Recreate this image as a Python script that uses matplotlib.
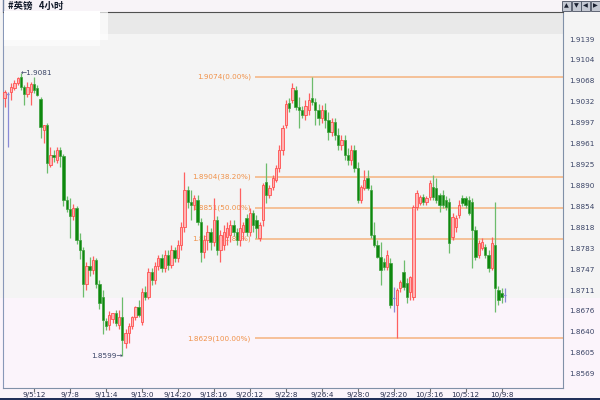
import numpy as np
import matplotlib
matplotlib.use('Agg')
import matplotlib.pyplot as plt
from matplotlib.patches import Rectangle

# Dados: GBPUSD 4 horas (abertura, maxima, minima, fechamento)
opens = [1.9039, 1.9046, 1.9049, 1.9056, 1.9064, 1.9074, 1.9057, 1.9045, 1.9049, 1.9062,
         1.9056, 1.9037, 1.8984, 1.8992, 1.8924, 1.8941, 1.8933, 1.8950, 1.8940, 1.8865,
         1.8850, 1.8838, 1.8852, 1.8797, 1.8780, 1.8722, 1.8752, 1.8745, 1.8762, 1.8722,
         1.8700, 1.8659, 1.8652, 1.8662, 1.8672, 1.8652, 1.8665, 1.8621, 1.8638, 1.8650,
         1.8665, 1.8682, 1.8657, 1.8708, 1.8700, 1.8742, 1.8729, 1.8752, 1.8766, 1.8749,
         1.8771, 1.8754, 1.8780, 1.8766, 1.8788, 1.8819, 1.8882, 1.8861, 1.8856, 1.8865,
         1.8827, 1.8776, 1.8797, 1.8810, 1.8793, 1.8831, 1.8780, 1.8788, 1.8802, 1.8805,
         1.8822, 1.8810, 1.8797, 1.8810, 1.8834, 1.8810, 1.8843, 1.8831, 1.8800, 1.8831,
         1.8896, 1.8873, 1.8887, 1.8899, 1.8919, 1.8950, 1.8992, 1.9030, 1.9035, 1.9052,
         1.9023, 1.9018, 1.9010, 1.9018, 1.9038, 1.9032, 1.9018, 1.9004, 1.9018, 1.9001,
         1.8981, 1.8998, 1.8976, 1.8959, 1.8967, 1.8941, 1.8933, 1.8950, 1.8919, 1.8865,
         1.8885, 1.8902, 1.8882, 1.8805, 1.8788, 1.8768, 1.8759, 1.8751, 1.8757, 1.8698,
         1.8686, 1.8715, 1.8742, 1.8723, 1.8708, 1.8700, 1.8853, 1.8860, 1.8870, 1.8861,
         1.8870, 1.8887, 1.8885, 1.8873, 1.8873, 1.8865, 1.8861, 1.8802, 1.8819, 1.8839,
         1.8868, 1.8868, 1.8865, 1.8861, 1.8814, 1.8771, 1.8783, 1.8785, 1.8771, 1.8749,
         1.8788, 1.8711, 1.8706, 1.8703]
highs = [1.9052, 1.9049, 1.9064, 1.9069, 1.9074, 1.9081, 1.9060, 1.9066, 1.9066, 1.9074,
         1.9060, 1.9040, 1.8992, 1.8996, 1.8955, 1.8950, 1.8955, 1.8955, 1.8943, 1.8872,
         1.8868, 1.8858, 1.8855, 1.8808, 1.8784, 1.8760, 1.8768, 1.8770, 1.8766, 1.8728,
         1.8712, 1.8664, 1.8675, 1.8672, 1.8678, 1.8678, 1.8700, 1.8645, 1.8655, 1.8668,
         1.8685, 1.8695, 1.8715, 1.8718, 1.8749, 1.8749, 1.8759, 1.8771, 1.8773, 1.8780,
         1.8780, 1.8788, 1.8785, 1.8797, 1.8827, 1.8913, 1.8889, 1.8882, 1.8873, 1.8873,
         1.8834, 1.8805, 1.8822, 1.8817, 1.8868, 1.8838, 1.8814, 1.8822, 1.8827, 1.8831,
         1.8831, 1.8817, 1.8885, 1.8827, 1.8841, 1.8851, 1.8848, 1.8839, 1.8827, 1.8894,
         1.8928, 1.8890, 1.8907, 1.8924, 1.8958, 1.8992, 1.9035, 1.9039, 1.9064, 1.9059,
         1.9040, 1.9025, 1.9035, 1.9047, 1.9074, 1.9038, 1.9028, 1.9027, 1.9030, 1.9015,
         1.9004, 1.9004, 1.8987, 1.8976, 1.8976, 1.8953, 1.8959, 1.8959, 1.8930, 1.8890,
         1.8916, 1.8916, 1.8890, 1.8827, 1.8797, 1.8793, 1.8766, 1.8780, 1.8766, 1.8717,
         1.8715, 1.8729, 1.8763, 1.8732, 1.8735, 1.8856, 1.8882, 1.8873, 1.8875, 1.8872,
         1.8899, 1.8907, 1.8902, 1.8877, 1.8882, 1.8872, 1.8868, 1.8842, 1.8839, 1.8865,
         1.8873, 1.8872, 1.8872, 1.8868, 1.8821, 1.8797, 1.8800, 1.8790, 1.8780, 1.8802,
         1.8861, 1.8718, 1.8715, 1.8715]
lows = [1.9023, 1.8955, 1.9035, 1.9052, 1.9060, 1.9052, 1.9027, 1.9040, 1.9027, 1.9047,
        1.9042, 1.8970, 1.8962, 1.8911, 1.8921, 1.8930, 1.8928, 1.8921, 1.8855, 1.8845,
        1.8800, 1.8830, 1.8790, 1.8765, 1.8700, 1.8712, 1.8735, 1.8738, 1.8715, 1.8680,
        1.8636, 1.8644, 1.8644, 1.8655, 1.8650, 1.8645, 1.8599, 1.8613, 1.8621, 1.8645,
        1.8660, 1.8665, 1.8652, 1.8695, 1.8696, 1.8720, 1.8722, 1.8746, 1.8742, 1.8742,
        1.8746, 1.8749, 1.8759, 1.8759, 1.8780, 1.8810, 1.8851, 1.8831, 1.8848, 1.8822,
        1.8759, 1.8766, 1.8780, 1.8780, 1.8787, 1.8771, 1.8759, 1.8780, 1.8788, 1.8793,
        1.8804, 1.8788, 1.8787, 1.8797, 1.8804, 1.8804, 1.8810, 1.8800, 1.8795, 1.8821,
        1.8860, 1.8868, 1.8882, 1.8896, 1.8913, 1.8941, 1.8987, 1.9015, 1.9030, 1.9018,
        1.8987, 1.9004, 1.9001, 1.9010, 1.9027, 1.8993, 1.8993, 1.8996, 1.8987, 1.8967,
        1.8974, 1.8967, 1.8950, 1.8950, 1.8933, 1.8924, 1.8924, 1.8913, 1.8860, 1.8860,
        1.8882, 1.8882, 1.8800, 1.8785, 1.8766, 1.8720, 1.8746, 1.8746, 1.8681, 1.8674,
        1.8629, 1.8708, 1.8712, 1.8689, 1.8695, 1.8695, 1.8848, 1.8856, 1.8856, 1.8856,
        1.8865, 1.8865, 1.8860, 1.8844, 1.8851, 1.8848, 1.8774, 1.8797, 1.8810, 1.8834,
        1.8855, 1.8851, 1.8839, 1.8749, 1.8763, 1.8766, 1.8780, 1.8766, 1.8742, 1.8746,
        1.8674, 1.8686, 1.8689, 1.8691]
closes = [1.9049, 1.9046, 1.9057, 1.9064, 1.9073, 1.9057, 1.9045, 1.9058, 1.9062, 1.9052,
          1.9044, 1.8989, 1.8992, 1.8928, 1.8941, 1.8938, 1.8950, 1.8940, 1.8865, 1.8850,
          1.8838, 1.8852, 1.8797, 1.8780, 1.8722, 1.8752, 1.8745, 1.8762, 1.8722, 1.8690,
          1.8660, 1.8650, 1.8669, 1.8672, 1.8655, 1.8665, 1.8626, 1.8638, 1.8650, 1.8665,
          1.8682, 1.8669, 1.8708, 1.8700, 1.8742, 1.8729, 1.8752, 1.8766, 1.8749, 1.8771,
          1.8754, 1.8780, 1.8766, 1.8788, 1.8819, 1.8882, 1.8861, 1.8856, 1.8868, 1.8827,
          1.8776, 1.8797, 1.8810, 1.8793, 1.8831, 1.8780, 1.8805, 1.8810, 1.8817, 1.8822,
          1.8810, 1.8797, 1.8817, 1.8822, 1.8810, 1.8843, 1.8822, 1.8817, 1.8822, 1.8890,
          1.8873, 1.8885, 1.8902, 1.8919, 1.8950, 1.8987, 1.9028, 1.9022, 1.9056, 1.9023,
          1.9018, 1.9010, 1.9025, 1.9035, 1.9032, 1.9018, 1.9004, 1.9018, 1.9001, 1.8981,
          1.8998, 1.8976, 1.8959, 1.8967, 1.8941, 1.8933, 1.8950, 1.8919, 1.8865, 1.8887,
          1.8899, 1.8885, 1.8805, 1.8788, 1.8768, 1.8746, 1.8751, 1.8771, 1.8686, 1.8698,
          1.8712, 1.8725, 1.8717, 1.8700, 1.8734, 1.8853, 1.8877, 1.8870, 1.8861, 1.8868,
          1.8894, 1.8870, 1.8865, 1.8856, 1.8856, 1.8853, 1.8792, 1.8836, 1.8834, 1.8856,
          1.8860, 1.8856, 1.8843, 1.8814, 1.8768, 1.8792, 1.8793, 1.8771, 1.8749, 1.8792,
          1.8715, 1.8695, 1.8700, 1.8703]

# rotulos de tempo (um a cada 11 barras, a partir da barra 9)
date_labels = ['9/5:12', '9/7:8', '9/11:4', '9/13:0', '9/14:20', '9/18:16', '9/20:12',
               '9/22:8', '9/26:4', '9/28:0', '9/29:20', '10/3:16', '10/5:12', '10/9:8']
price_ticks = [1.9139, 1.9104, 1.9068, 1.9032, 1.8997, 1.8961, 1.8925, 1.8890, 1.8854,
               1.8818, 1.8783, 1.8747, 1.8711, 1.8676, 1.8640, 1.8605, 1.8569]

# niveis de Fibonacci
fib_levels = [1.9074, 1.8904, 1.8851, 1.8798, 1.8629]
fib_pcts = ['0.00%', '38.20%', '50.00%', '61.80%', '100.00%']

opens = np.array(opens)
highs = np.array(highs)
lows = np.array(lows)
closes = np.array(closes)
x = np.arange(len(opens))

W, H = 600, 400
fig = plt.figure(figsize=(6, 4), dpi=100)
fig.patch.set_facecolor('#fbf4fb')


def px_rect(x0, y0, x1, y1, color, z=-10, **kw):
    r = Rectangle((x0 / W, 1 - y1 / H), (x1 - x0) / W, (y1 - y0) / H,
                  transform=fig.transFigure, facecolor=color, zorder=z, **kw)
    fig.patches.append(r)


# fundos
px_rect(0, 12, 600, 298, '#f4f4f4', edgecolor='none')
px_rect(3, 12, 563, 34, '#e9e9e9', edgecolor='none')
px_rect(0, 0, 600, 12, '#f8f4f8', edgecolor='none')

ax = fig.add_axes([3 / W, 12 / H, 560 / W, 376 / H])
ax.set_facecolor('none')
ax.set_xlim((3 - 4.6) / 3.27, (563 - 4.6) / 3.27)
ax.set_ylim(1.85446, 1.91850)

up = closes > opens
dn = closes < opens
dj = closes == opens

# velas
ax.vlines(x[up], lows[up], highs[up], color='#ff6060', lw=0.9, zorder=3)
ax.vlines(x[dn], lows[dn], highs[dn], color='#6cbc6c', lw=0.9, zorder=3)
ax.vlines(x[dj], lows[dj], highs[dj], color='#8a8ad6', lw=0.9, zorder=3)
ax.bar(x[up], closes[up] - opens[up], bottom=opens[up], width=0.72,
       color='#ffb4b4', edgecolor='#ff5050', linewidth=0.6, zorder=4)
ax.bar(x[dn], opens[dn] - closes[dn], bottom=closes[dn], width=0.72,
       color='#0e880e', edgecolor='#3aa03a', linewidth=0.5, zorder=4)
ax.hlines(opens[dj], x[dj] - 0.45, x[dj] + 0.45, color='#8a8ad6', lw=0.9, zorder=4)

# linhas de Fibonacci
xmax = ax.get_xlim()[1]
for lvl, pct in zip(fib_levels, fib_pcts):
    ax.hlines(lvl, 76.5, xmax, color='#f5b27e', lw=1.1, zorder=2)
    ax.text(75.3, lvl, f'{lvl:.4f}({pct})', ha='right', va='center',
            color='#f0924a', fontsize=5.2, zorder=1)

# maxima e minima
hi = int(np.argmax(highs))
lo = int(np.argmin(lows))
ax.text(hi - 0.15, highs[hi], f'\u2190{highs[hi]:.4f}', ha='left', va='center',
        color='#3a4466', fontsize=5.2)
ax.text(lo + 0.25, lows[lo], f'{lows[lo]:.4f}\u2192', ha='right', va='center',
        color='#3a4466', fontsize=5.2)

# eixos
ax.yaxis.tick_right()
ax.set_yticks(price_ticks)
ax.set_yticklabels([f'{p:.4f}' for p in price_ticks])
ax.tick_params(axis='y', length=0, pad=4.5, labelsize=5.2, labelcolor='#3a4466')
ax.set_xticks(np.arange(9, len(x), 11)[:len(date_labels)])
ax.set_xticklabels(date_labels)
ax.tick_params(axis='x', length=3, pad=0.2, labelsize=5.2, labelcolor='#2a3050',
               color='#707070')
ax.spines['top'].set_color('#505050')
ax.spines['left'].set_color('#8898b8')
ax.spines['right'].set_color('#8090a8')
ax.spines['bottom'].set_color('#8090a8')
for s in ax.spines.values():
    s.set_linewidth(0.8)

# marca d'agua branca no canto superior esquerdo
px_rect(4, 11.5, 100, 40, 'white', z=5, edgecolor='none')
px_rect(100, 11.5, 108, 40, 'white', z=5, edgecolor='none', alpha=0.7)
px_rect(4, 40, 100, 46, 'white', z=5, edgecolor='none', alpha=0.6)

# barra de titulo
fig.lines.append(plt.Line2D([3 / W, 3 / W], [1, 1 - 11 / H], transform=fig.transFigure,
                            color='#7080a0', lw=1))
fig.text(8 / W, 1 - 6 / H, '#英镑   4小时', ha='left', va='center', fontsize=6.8,
         fontweight='bold', color='#101828', family=['Noto Sans CJK SC', 'DejaVu Sans'])

# botoes de rolagem
for i, g in enumerate(['\u25b2', '\u25bc', '\u25c0', '\u25b6']):
    x0 = 562 + i * 9.5
    px_rect(x0, 0.5, x0 + 9, 11, '#c4c8d2', z=5, edgecolor='#4a5262', linewidth=0.6)
    fig.text((x0 + 4.5) / W, 1 - 5.8 / H, g, ha='center', va='center', fontsize=4.5,
             color='#1a2030', zorder=6)

# borda inferior
px_rect(0, 397.5, 600, 400, '#22305a', z=5, edgecolor='none')

fig.savefig('out.png', dpi=100, facecolor=fig.get_facecolor())
